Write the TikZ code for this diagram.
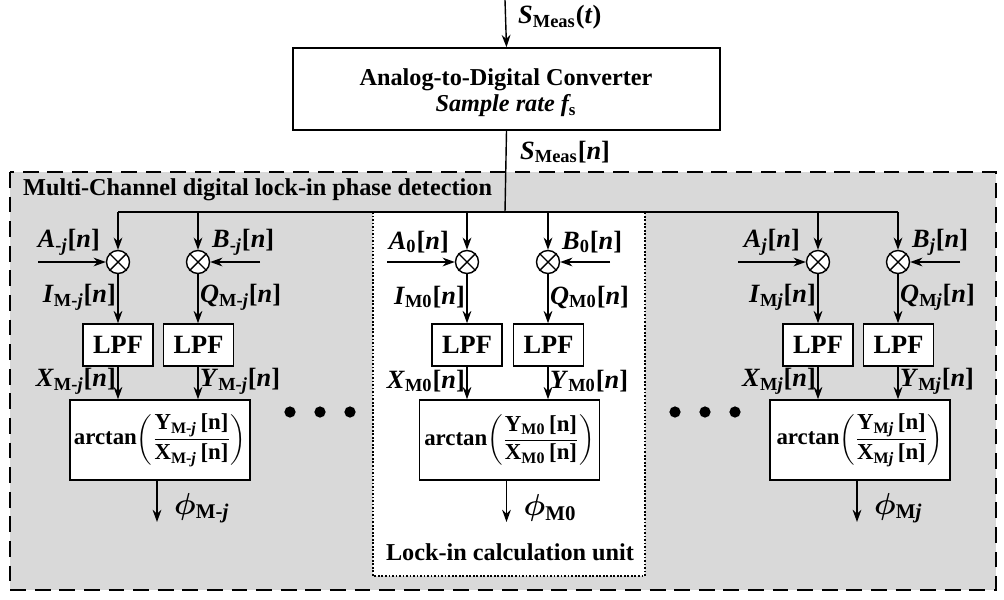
\documentclass[tikz,border=0pt]{standalone}
\usepackage{fontspec}
\setmainfont{Liberation Serif}
\usepackage{amsmath}
\usetikzlibrary{arrows.meta}
\newcommand{\sy}[3]{\textit{#1}\textsubscript{#2}#3}
\newcommand{\mj}{\textit{j}}
\newcommand{\nn}{[\textit{n}]}
\begin{document}
\begin{tikzpicture}[x=0.02cm,y=-0.02cm,font=\bfseries\fontsize{13}{15}\selectfont,
  box/.style={draw,line width=0.9pt,fill=white,inner sep=0pt},
  mul/.style={draw,circle,fill=white,minimum size=0.46cm,inner sep=0pt,line width=0.8pt},
  arr/.style={-{Stealth[length=7pt,width=5pt]},line width=0.8pt},
  ln/.style={line width=0.8pt},
  big/.style={font=\bfseries\fontsize{15}{17}\selectfont},
  mid/.style={font=\bfseries\fontsize{13.8}{16}\selectfont}]
\useasboundingbox (0,0) rectangle (1004,599);
\fill[gray!30] (10,172) rectangle (996,590);
\draw[dash pattern=on 9pt off 5pt,line width=1.2pt] (10,172) rectangle (996,590);
\node[anchor=west,mid] (title) at (17,190) {Multi-Channel digital lock-in phase detection};
\fill[white] (373,212) rectangle (645,576);
\draw[densely dotted,line width=1pt] (373,212) rectangle (645,576);
\node[mid] (unit) at (510,552) {Lock-in calculation unit};
\coordinate (in) at (505,0);
\node[box,minimum width=8.54cm,minimum height=1.64cm] (adc) at (506.5,89) {};
\node[mid] (adc1) at (506,80) {Analog-to-Digital Converter};
\node[mid] (adc2) at (506,106) {\itshape Sample rate f\textsubscript{\upshape s}};
\draw[arr] (in) -- (adc.north);
\node[anchor=west,big] (sin) at (512,17) {\sy{S}{Meas}{(\textit{t})}};
\coordinate (br) at (505,212);
\draw[ln] (adc.south) -- (br);
\node[anchor=west,big] (sn) at (514,152) {\sy{S}{Meas}{\nn}};
\coordinate (bl) at (118,212);
\coordinate (brr) at (898,212);
\draw[ln] (bl) -- (brr);
\newcommand{\chan}[5]{%
 \node[mul] (m1#3) at (#1,262) {};
 \draw[ln] (m1#3.north west) -- (m1#3.south east) (m1#3.north east) -- (m1#3.south west);
 \node[mul] (m2#3) at (#2,262) {};
 \draw[ln] (m2#3.north west) -- (m2#3.south east) (m2#3.north east) -- (m2#3.south west);
 \coordinate (t1#3) at (#1,212); \coordinate (t2#3) at (#2,212);
 \draw[arr] (t1#3) -- (m1#3); \draw[arr] (t2#3) -- (m2#3);
 \coordinate (a#3) at (#1-80,262); \coordinate (b#3) at (#2+62,262);
 \draw[arr] (a#3) -- (m1#3); \draw[arr] (b#3) -- (m2#3);
 \node[anchor=east,big] (la#3) at (#1-12,242) {\sy{A}{#4}{\nn}};
 \node[anchor=west,big] (lb#3) at (#2+8,242) {\sy{B}{#4}{\nn}};
 \node[box,minimum width=1.4cm,minimum height=0.84cm,big] (l1#3) at (#1,345) {LPF};
 \node[box,minimum width=1.4cm,minimum height=0.84cm,big] (l2#3) at (#2+0.5,345) {LPF};
 \draw[arr] (m1#3) -- (l1#3.north -| m1#3);
 \draw[arr] (m2#3) -- (l2#3.north -| m2#3);
 \node[anchor=east,big] (li#3) at (#1+4,297) {\sy{I}{M#5}{\nn}};
 \node[anchor=west,big] (lq#3) at (#2-4,297) {\sy{Q}{M#5}{\nn}};
 \node[box,minimum width=3.6cm,minimum height=1.6cm] (at#3) at (#1/2+#2/2+2,440) {};
 \node (att#3) at (#1/2+#2/2+2,440) {arctan$\left(\dfrac{\text{\bfseries Y\textsubscript{M#5}\,[n]}}{\text{\bfseries X\textsubscript{M#5}\,[n]}}\right)$};
 \draw[arr] (l1#3.south -| m1#3) -- (at#3.north -| m1#3);
 \draw[arr] (l2#3.south -| m2#3) -- (at#3.north -| m2#3);
 \node[anchor=east,big] (lx#3) at (#1+4,381) {\sy{X}{M#5}{\nn}};
 \node[anchor=west,big] (ly#3) at (#2-4,381) {\sy{Y}{M#5}{\nn}};
 \coordinate (ph#3) at ([xshift=-0.06cm]at#3.south |- 0,522);
 \draw[arr] ([xshift=-0.06cm]at#3.south) -- (ph#3);
 \node[anchor=west,font=\bfseries\fontsize{17}{19}\selectfont] (lp#3) at (#1/2+#2/2+10,508) {$\boldsymbol{\phi}$\textsubscript{M#5}};
}
\chan{118}{198}{L}{-\mj}{-\mj}
\chan{467}{548}{C}{0}{0}
\chan{818}{898}{R}{\mj}{\mj}
\foreach \x in {290,320,350,675,705,735} \fill (\x,412) circle (3.2pt);
\end{tikzpicture}
\end{document}
